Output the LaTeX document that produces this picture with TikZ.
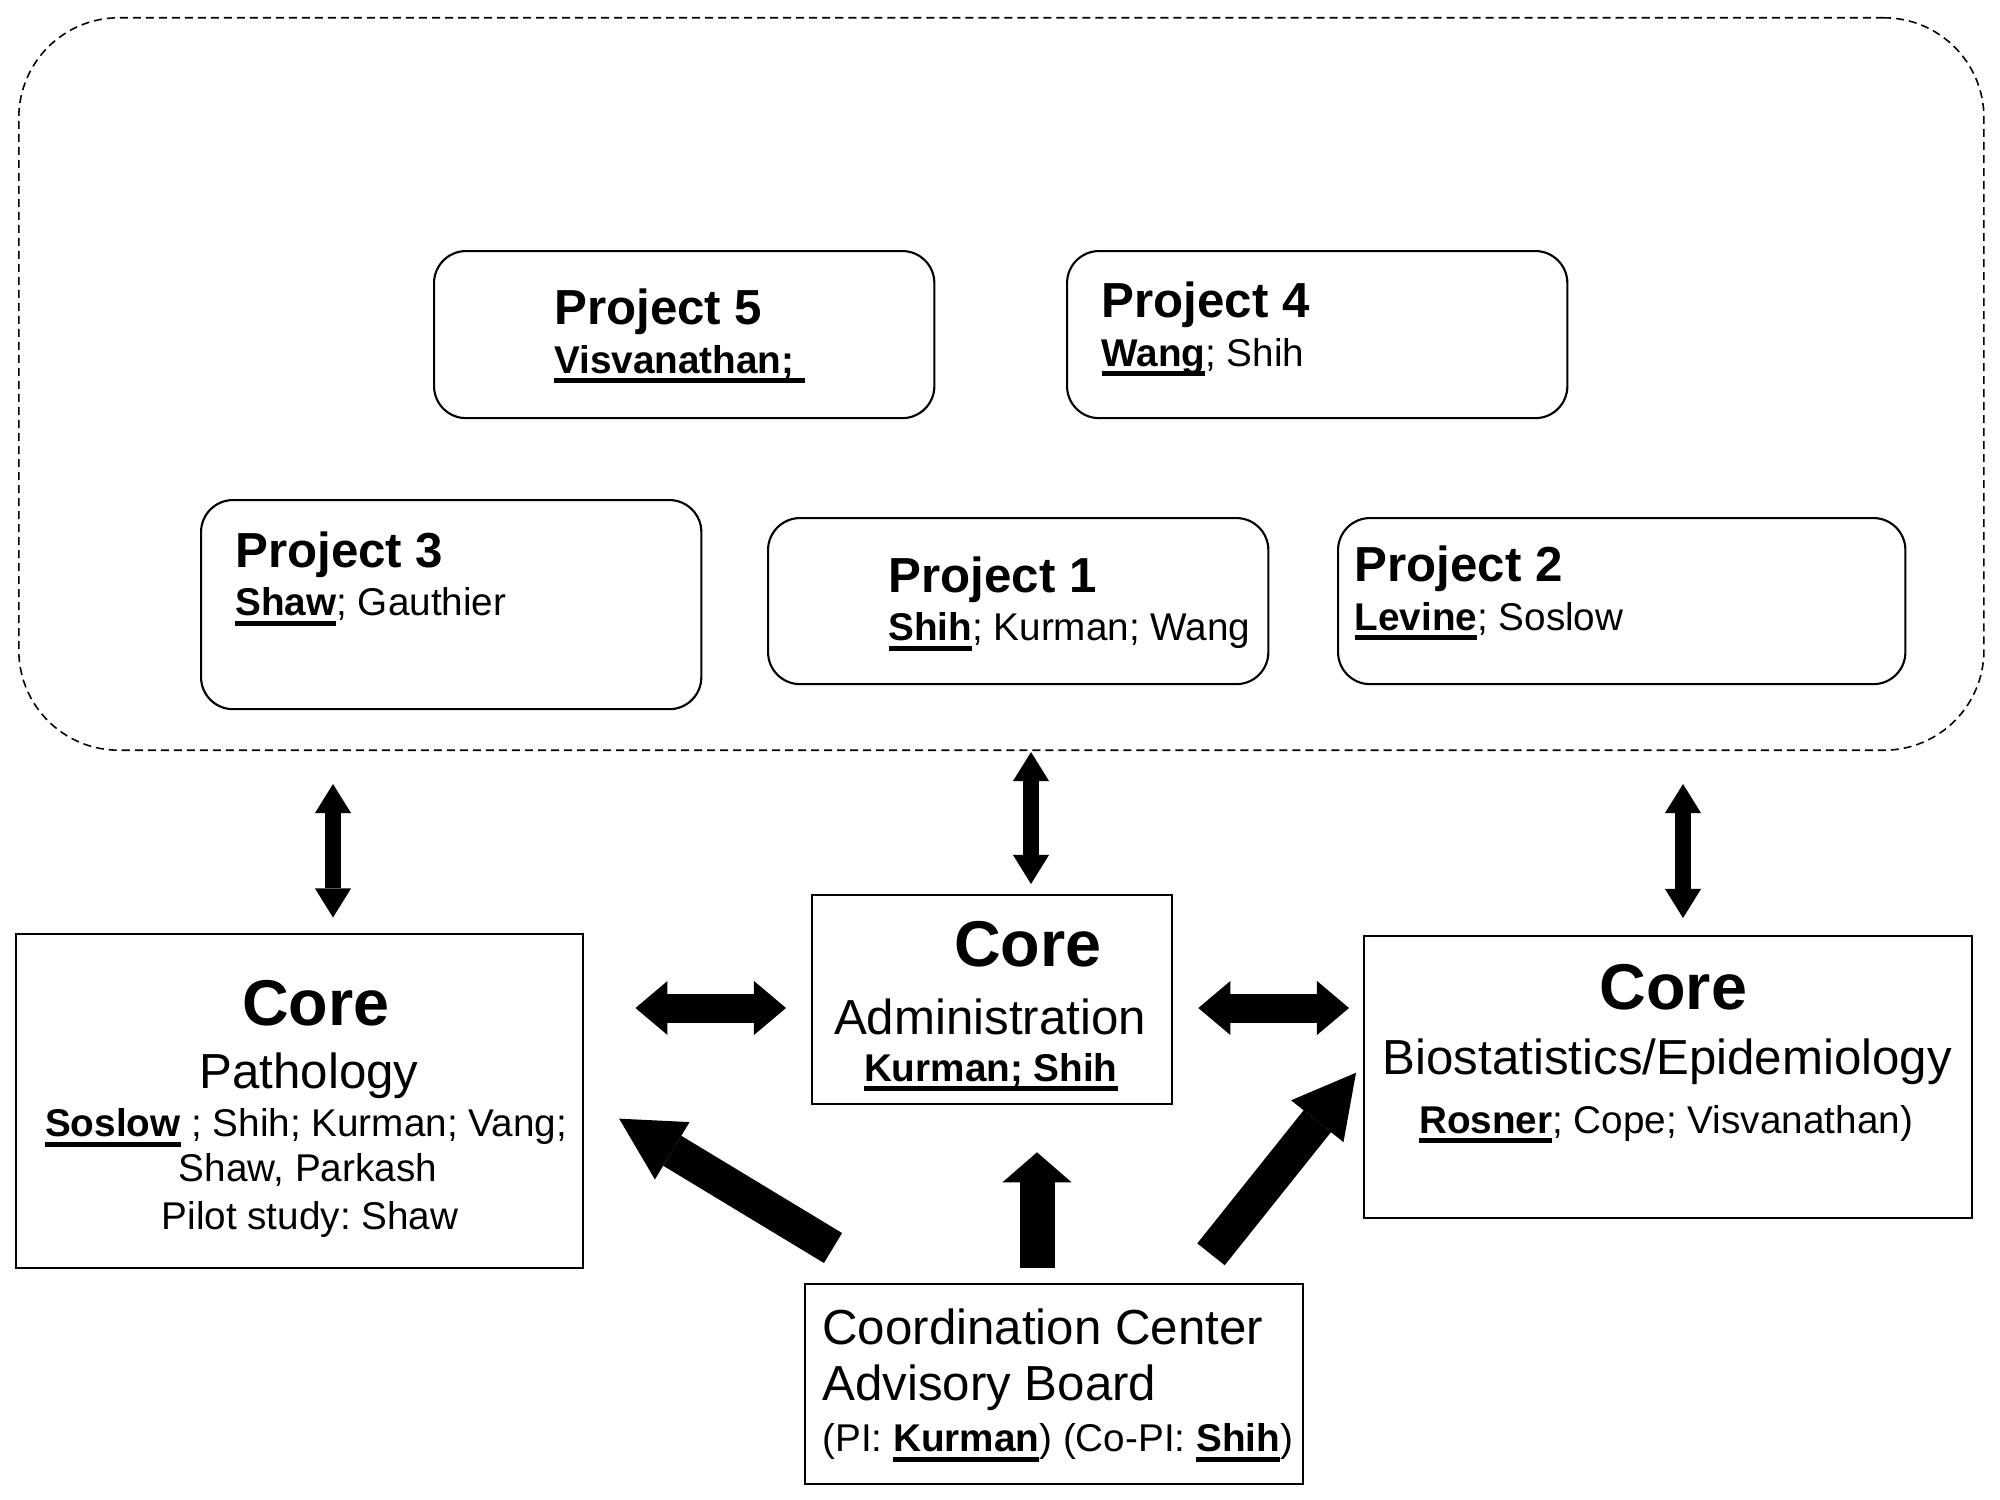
\documentclass[tikz,border=0pt]{standalone}
\usepackage{fontspec}
\setmainfont{Liberation Sans}
\usetikzlibrary{arrows.meta,calc}
\newsavebox\ulbox
\newcommand\myul[1]{\sbox\ulbox{#1}\rlap{\rule[-2.9pt]{\wd\ulbox}{1.35pt}}\usebox\ulbox}
\frenchspacing
\begin{document}
\frenchspacing
\begin{tikzpicture}[x=0.01cm, y=-0.01cm,
  team/.style={draw, line width=0.45pt, dash pattern=on 0.08cm off 0.05cm, rounded corners=1cm, inner sep=0, anchor=north west},
  pbox/.style={draw, line width=0.6pt, rounded corners=0.32cm, inner sep=0, anchor=north west},
  cbox/.style={draw, line width=0.6pt, inner sep=0, anchor=north west},
  ltxt/.style={inner sep=0, anchor=base west},
  ctxt/.style={inner sep=0, anchor=base},
  fbig/.style={font=\fontsize{18.4}{20}\selectfont\bfseries\frenchspacing},
  ftitle/.style={font=\fontsize{14}{16}\selectfont\frenchspacing},
  fbtitle/.style={font=\fontsize{14}{16}\selectfont\bfseries\frenchspacing},
  fsmall/.style={font=\fontsize{11}{13}\selectfont\frenchspacing},
  dblv/.style={line width=0.16cm, {Triangle[width=0.36cm,length=0.29cm,line width=0pt]}-{Triangle[width=0.36cm,length=0.29cm,line width=0pt]}},
  dblh/.style={line width=0.29cm, {Triangle[width=0.54cm,length=0.32cm,line width=0pt]}-{Triangle[width=0.54cm,length=0.32cm,line width=0pt]}},
  bigup/.style={line width=0.35cm, -{Triangle[width=0.69cm,length=0.30cm,line width=0pt]}},
  bigdiag/.style={line width=0.35cm, -{Triangle[width=0.67cm,length=0.62cm,line width=0pt]}}
]
\useasboundingbox (0,0) rectangle (2000,1500);

% dashed container
\node[team, minimum width=19.64cm, minimum height=7.32cm] (team) at (18,17) {};

% projects
\node[pbox, minimum width=5.00cm, minimum height=1.67cm] (p5) at (433,250) {};
\node[pbox, minimum width=5.00cm, minimum height=1.67cm] (p4) at (1066,250) {};
\node[pbox, minimum width=5.00cm, minimum height=2.09cm] (p3) at (200,499) {};
\node[pbox, minimum width=5.00cm, minimum height=1.66cm] (p1) at (767,517) {};
\node[pbox, minimum width=5.67cm, minimum height=1.66cm] (p2) at (1337,517) {};

\node[ltxt, fbtitle] (p5a) at (553.6,324.8) {Project 5};
\node[ltxt, fsmall] (p5b) at (553.6,373) {\bfseries\myul{Visvanathan;\ }};
\node[ltxt, fbtitle] (p4a) at (1100.8,317.5) {Project 4};
\node[ltxt, fsmall] (p4b) at (1100.8,366) {\myul{\bfseries Wang}; Shih};
\node[ltxt, fbtitle] (p3a) at (234.7,567) {Project 3};
\node[ltxt, fsmall] (p3b) at (234.7,615.6) {\myul{\bfseries Shaw}; Gauthier};
\node[ltxt, fbtitle] (p1a) at (887.8,592) {Project 1};
\node[ltxt, fsmall] (p1b) at (887.8,640.8) {\myul{\bfseries Shih}; Kurman; Wang};
\node[ltxt, fbtitle] (p2a) at (1354,581.7) {Project 2};
\node[ltxt, fsmall] (p2b) at (1354,630) {\myul{\bfseries Levine}; Soslow};

% cores
\node[cbox, minimum width=5.67cm, minimum height=3.34cm] (patho) at (15,932.5) {};
\node[cbox, minimum width=3.60cm, minimum height=2.09cm] (admin) at (811,894) {};
\node[cbox, minimum width=6.08cm, minimum height=2.82cm] (bio) at (1363,935) {};
\node[cbox, minimum width=4.98cm, minimum height=2.00cm] (coord) at (804,1283) {};

\node[ctxt, fbig] (pa1) at (315.8,1025) {Core};
\node[ctxt, ftitle] (pa2) at (309,1088.3) {Pathology};
\node[ctxt, fsmall] (pa3) at (306,1136.7) {\myul{\bfseries Soslow} ; Shih; Kurman; Vang;};
\node[ctxt, fsmall] (pa4) at (308,1181.7) {Shaw, Parkash};
\node[ctxt, fsmall] (pa5) at (310,1229.3) {Pilot study: Shaw};

\node[ctxt, fbig] (ad1) at (1027.8,966) {Core};
\node[ctxt, ftitle] (ad2) at (990,1034) {Administration};
\node[ctxt, fsmall] (ad3) at (990.8,1081) {\bfseries\myul{Kurman; Shih}};

\node[ctxt, fbig] (bi1) at (1673.4,1009) {Core};
\node[ctxt, ftitle] (bi2) at (1667.4,1074.5) {Biostatistics/Epidemiology};
\node[ctxt, fsmall] (bi3) at (1666,1133) {\myul{\bfseries Rosner}; Cope; Visvanathan)};

\node[ltxt, ftitle] (co1) at (821.7,1344) {Coordination Center};
\node[ltxt, ftitle] (co2) at (821.7,1400) {Advisory Board};
\node[ltxt, fsmall] (co3) at (821.7,1451.7) {(PI: \myul{\bfseries Kurman}) (Co-PI: \myul{\bfseries Shih})};

% connectors
\draw[dblv, shorten <=0.33cm, shorten >=0.15cm] (team.south -| 333,0) -- (patho.north -| 333,0);
\draw[dblv, shorten <=0.01cm, shorten >=0.10cm] (team.south -| 1031,0) -- (admin.north -| 1031,0);
\draw[dblv, shorten <=0.33cm, shorten >=0.17cm] (team.south -| 1683,0) -- (bio.north -| 1683,0);
\draw[dblh, shorten <=0.51cm, shorten >=0.25cm] (patho.east |- 0,1008) -- (admin.west |- 0,1008);
\draw[dblh, shorten <=0.25cm, shorten >=0.14cm] (admin.east |- 0,1008) -- (bio.west |- 0,1008);
\draw[bigup, shorten <=0.15cm, shorten >=0.47cm] (coord.north -| 1037,0) -- (admin.south -| 1037,0);
\draw[bigdiag] ($(coord.north west)+(29,-35)$) -- ($(patho.east)+(34.7,18)$);
\draw[bigdiag] ($(coord.north east)+(-93.4,-28.7)$) -- ($(bio.west)+(-7,-4.4)$);
\end{tikzpicture}
\end{document}
